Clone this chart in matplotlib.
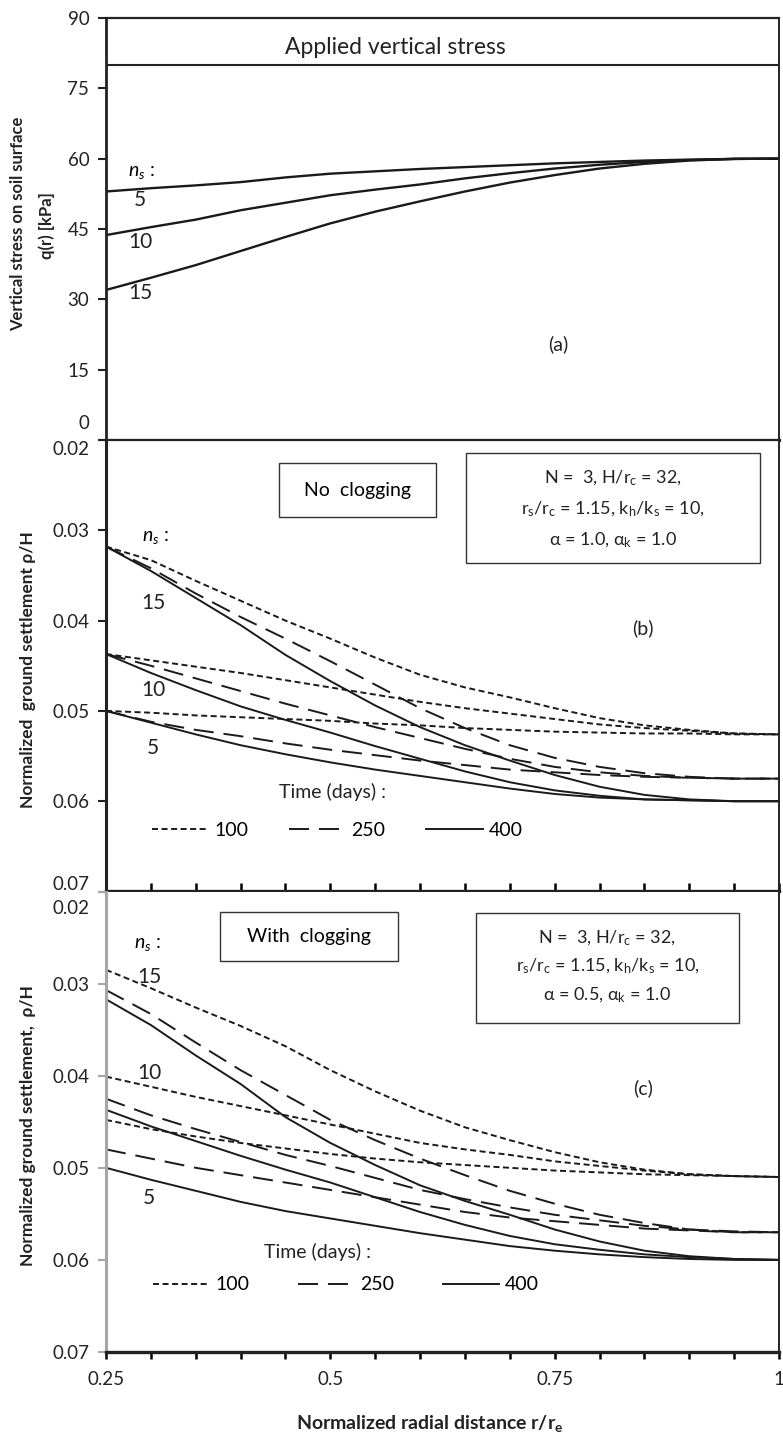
import numpy as np
import matplotlib
matplotlib.use('Agg')
import matplotlib.pyplot as plt
import matplotlib.transforms as mtransforms
from matplotlib.patches import Rectangle
from matplotlib.lines import Line2D

plt.rcParams['font.family'] = ['Lato', 'DejaVu Sans']
plt.rcParams['mathtext.fontset'] = 'custom'
plt.rcParams['mathtext.rm'] = 'Lato'
plt.rcParams['mathtext.it'] = 'Lato:italic'
plt.rcParams['mathtext.bf'] = 'Lato:bold'

# normalized radial distance r/re
r = [0.25, 0.30, 0.35, 0.40, 0.45, 0.50, 0.55, 0.60, 0.65, 0.70, 0.75, 0.80, 0.85, 0.90, 0.95, 1.00]
days = [100, 250, 400]

# (a) vertical stress on soil surface q(r) [kPa]
q_applied = 80
q_ns5 = [53.0, 53.7, 54.3, 55.0, 56.0, 56.8, 57.3, 57.8, 58.2, 58.6, 59.0, 59.3, 59.6, 59.8, 59.95, 60.0]
q_ns10 = [43.7, 45.4, 47.0, 49.0, 50.6, 52.2, 53.4, 54.5, 55.8, 56.9, 57.9, 58.7, 59.3, 59.7, 59.95, 60.0]
q_ns15 = [32.0, 34.6, 37.3, 40.3, 43.3, 46.2, 48.7, 50.9, 53.0, 54.9, 56.5, 57.9, 58.9, 59.6, 59.95, 60.0]

# (b) no clogging, rho/H
b_ns5_t100 = [0.0500, 0.0502, 0.0505, 0.0507, 0.0509, 0.0511, 0.0514, 0.0516, 0.0519, 0.0521, 0.0523, 0.0524, 0.0525, 0.0525, 0.0526, 0.0526]
b_ns5_t250 = [0.0500, 0.0512, 0.0521, 0.0528, 0.0536, 0.0543, 0.0549, 0.0555, 0.0560, 0.0565, 0.0568, 0.0571, 0.0573, 0.0574, 0.0575, 0.0575]
b_ns5_t400 = [0.0500, 0.0513, 0.0526, 0.0538, 0.0548, 0.0557, 0.0565, 0.0572, 0.0579, 0.0586, 0.0592, 0.0596, 0.0598, 0.0599, 0.0600, 0.0600]
b_ns10_t100 = [0.0437, 0.0444, 0.0451, 0.0458, 0.0466, 0.0474, 0.0482, 0.0490, 0.0497, 0.0503, 0.0509, 0.0515, 0.0519, 0.0522, 0.0525, 0.0526]
b_ns10_t250 = [0.0437, 0.0450, 0.0464, 0.0478, 0.0492, 0.0505, 0.0518, 0.0530, 0.0542, 0.0553, 0.0562, 0.0568, 0.0572, 0.0574, 0.0575, 0.0575]
b_ns10_t400 = [0.0437, 0.0458, 0.0477, 0.0495, 0.0510, 0.0524, 0.0539, 0.0553, 0.0567, 0.0579, 0.0588, 0.0594, 0.0598, 0.0599, 0.0600, 0.0600]
b_ns15_t100 = [0.0318, 0.0333, 0.0356, 0.0378, 0.0400, 0.0420, 0.0441, 0.0460, 0.0474, 0.0485, 0.0497, 0.0508, 0.0516, 0.0521, 0.0525, 0.0526]
b_ns15_t250 = [0.0318, 0.0342, 0.0370, 0.0396, 0.0420, 0.0445, 0.0471, 0.0497, 0.0519, 0.0538, 0.0552, 0.0562, 0.0569, 0.0573, 0.0575, 0.0575]
b_ns15_t400 = [0.0318, 0.0345, 0.0375, 0.0405, 0.0438, 0.0467, 0.0494, 0.0518, 0.0538, 0.0555, 0.0571, 0.0584, 0.0593, 0.0598, 0.0600, 0.0600]

# (c) with clogging, rho/H
c_ns5_t100 = [0.0448, 0.0458, 0.0466, 0.0473, 0.0479, 0.0485, 0.0490, 0.0494, 0.0497, 0.0500, 0.0503, 0.0505, 0.0507, 0.0508, 0.0509, 0.0510]
c_ns5_t250 = [0.0480, 0.0490, 0.0500, 0.0508, 0.0516, 0.0524, 0.0532, 0.0540, 0.0548, 0.0554, 0.0558, 0.0562, 0.0566, 0.0568, 0.0570, 0.0570]
c_ns5_t400 = [0.0500, 0.0513, 0.0525, 0.0537, 0.0547, 0.0555, 0.0563, 0.0571, 0.0578, 0.0585, 0.0590, 0.0594, 0.0597, 0.0599, 0.0600, 0.0600]
c_ns10_t100 = [0.0401, 0.0412, 0.0423, 0.0433, 0.0443, 0.0453, 0.0463, 0.0473, 0.0480, 0.0486, 0.0493, 0.0498, 0.0503, 0.0507, 0.0509, 0.0510]
c_ns10_t250 = [0.0425, 0.0443, 0.0458, 0.0472, 0.0486, 0.0498, 0.0511, 0.0524, 0.0534, 0.0543, 0.0551, 0.0557, 0.0563, 0.0567, 0.0569, 0.0570]
c_ns10_t400 = [0.0437, 0.0455, 0.0471, 0.0487, 0.0502, 0.0516, 0.0532, 0.0548, 0.0562, 0.0574, 0.0583, 0.0589, 0.0594, 0.0597, 0.0599, 0.0600]
c_ns15_t100 = [0.0285, 0.0305, 0.0326, 0.0346, 0.0368, 0.0394, 0.0417, 0.0438, 0.0456, 0.0470, 0.0483, 0.0494, 0.0502, 0.0507, 0.0509, 0.0510]
c_ns15_t250 = [0.0307, 0.0333, 0.0364, 0.0394, 0.0421, 0.0448, 0.0470, 0.0490, 0.0508, 0.0525, 0.0539, 0.0551, 0.0560, 0.0567, 0.0570, 0.0570]
c_ns15_t400 = [0.0317, 0.0345, 0.0378, 0.0409, 0.0445, 0.0473, 0.0497, 0.0519, 0.0536, 0.0551, 0.0567, 0.0580, 0.0590, 0.0596, 0.0599, 0.0600]

b_series = {100: [b_ns5_t100, b_ns10_t100, b_ns15_t100],
            250: [b_ns5_t250, b_ns10_t250, b_ns15_t250],
            400: [b_ns5_t400, b_ns10_t400, b_ns15_t400]}
c_series = {100: [c_ns5_t100, c_ns10_t100, c_ns15_t100],
            250: [c_ns5_t250, c_ns10_t250, c_ns15_t250],
            400: [c_ns5_t400, c_ns10_t400, c_ns15_t400]}

LW = 1.4
styles = {100: (0, (3.1, 1.8)), 250: (0, (10.3, 5.1)), 400: '-'}
FS = 14
TFS = 13.5
INK = '#222222'
GRAY = '#a6a6a6'

fig = plt.figure(figsize=(7.83, 14.38), dpi=100)
L, W = 106 / 783, 673 / 783
def pos(top, bot):
    return [L, 1 - bot / 1438, W, (bot - top) / 1438]

ax_a = fig.add_axes(pos(18, 440))
ax_b = fig.add_axes(pos(440, 891.5))
ax_c = fig.add_axes(pos(891.5, 1352))

def nudge(ax, idx, dy):
    lab = ax.get_yticklabels()[idx]
    lab.set_transform(lab.get_transform() + mtransforms.ScaledTranslation(0, dy / 100, fig.dpi_scale_trans))

# ---------------- (a)
ax_a.axhline(q_applied, color=INK, lw=1.5)
for q in [q_ns5, q_ns10, q_ns15]:
    ax_a.plot(r, q, color='#1a1a1a', lw=1.7)
ax_a.set_xlim(0.25, 1)
ax_a.set_ylim(0, 90)
ax_a.set_yticks(np.arange(0, 91, 15))
ax_a.set_xticks([])
ax_a.tick_params(axis='y', direction='out', length=6, width=1.5, pad=6, labelsize=TFS, colors=INK)
ax_a.text(0.573, 83.7, 'Applied vertical stress', fontsize=16.5, ha='center', va='center', color=INK)
ax_a.text(0.289, 57.1, r'$n_s$ :', fontsize=FS, ha='center', va='center')
for lab, yy in zip(['5', '10', '15'], [51.1, 42.2, 31.3]):
    ax_a.text(0.288, yy, lab, fontsize=15, ha='center', va='center', color=INK)
ax_a.text(0.7537, 20.45, '(a)', fontsize=FS, ha='center', va='center', color=INK)
for s, w in zip(['left', 'top', 'right', 'bottom'], [2.0, 1.6, 1.4, 2.2]):
    ax_a.spines[s].set_linewidth(w)
    ax_a.spines[s].set_color(INK)
nudge(ax_a, 0, 18)

# ---------------- (b) and (c)
def settle_panel(ax, series, left_col):
    for t in days:
        for y in series[t]:
            ax.plot(r, y, color='#1a1a1a', lw=LW, linestyle=styles[t])
    ax.set_xlim(0.25, 1)
    ax.set_ylim(0.07, 0.02)
    ax.set_yticks([0.02, 0.03, 0.04, 0.05, 0.06, 0.07])
    ax.set_yticklabels(['0.02', '0.03', '0.04', '0.05', '0.06', '0.07'])
    ax.set_xticks([0.25, 0.5, 0.75, 1.0])
    ax.set_xticks(np.arange(0.30, 0.99, 0.05), minor=True)
    ax.tick_params(axis='y', direction='out', length=6, width=1.5, pad=6, labelsize=TFS,
                   color=left_col, labelcolor=INK)
    for s, w in zip(['left', 'top', 'right', 'bottom'], [2.2, 1.6, 1.4, 2.4]):
        ax.spines[s].set_linewidth(w)
        ax.spines[s].set_color(INK)
    ax.spines['left'].set_color(left_col)
    return [Line2D([], [], color='#1a1a1a', lw=LW, linestyle=styles[t]) for t in days]

def param_box(ax, x0, y0, w, h, lines, xc, ys, top, height):
    ax.add_patch(Rectangle((x0, y0), w, h, transform=ax.transAxes, fill=False, lw=1.0, ec='#333333'))
    for txt, yy in zip(lines, ys):
        ax.text(xc, 1 - (yy - top) / height, txt, transform=ax.transAxes, fontsize=13,
                ha='center', va='center', color=INK)

h = settle_panel(ax_b, b_series, INK)
ax_b.tick_params(axis='x', which='both', direction='in', length=6, width=1.8, labelbottom=False)
ax_b.text(0.3046, 0.03075, r'$n_s$ :', fontsize=FS, ha='center', va='center')
for lab, yy in zip(['15', '10', '5'], [0.0380, 0.04772, 0.05415]):
    ax_b.text(0.3024, yy, lab, fontsize=15, ha='center', va='center', color=INK)
ax_b.text(0.8485, 0.04084, '(b)', fontsize=FS, ha='center', va='center', color=INK)
ax_b.add_patch(Rectangle((0.257, 0.829), 0.233, 0.12, transform=ax_b.transAxes,
                         fill=False, lw=1.0, ec='#333333'))
ax_b.text(0.3735, 0.889, 'No  clogging', transform=ax_b.transAxes, fontsize=FS, ha='center', va='center')
param_box(ax_b, 0.535, 0.727, 0.437, 0.244,
          [r'N =  3, H/r$\mathregular{_c}$ = 32,',
           r'r$\mathregular{_s}$/r$\mathregular{_c}$ = 1.15, k$\mathregular{_h}$/k$\mathregular{_s}$ = 10,',
           r'α = 1.0, α$\mathregular{_k}$ = 1.0'],
          0.753, [478, 509, 540], 440, 451)
ax_b.text(0.337, 1 - (792 - 440) / 451, 'Time (days) :', transform=ax_b.transAxes,
          fontsize=FS, ha='center', va='center', color=INK)
ax_b.legend(h, [str(t) for t in days], ncol=3, loc='center left',
            bbox_to_anchor=(0.0684, 1 - (830 - 440) / 451), frameon=False, fontsize=FS,
            borderpad=0, borderaxespad=0, handlelength=2.9, handletextpad=0.3, columnspacing=2.1)
nudge(ax_b, 0, -8)
nudge(ax_b, 5, 9)

h = settle_panel(ax_c, c_series, GRAY)
ax_c.set_xticklabels(['0.25', '0.5', '0.75', '1'])
ax_c.tick_params(axis='x', which='both', direction='out', length=5, width=1.8, pad=9,
                 labelsize=TFS, labelcolor=INK)
ax_c.spines['top'].set_visible(False)
ax_c.text(0.2957, 0.02577, r'$n_s$ :', fontsize=FS, ha='center', va='center')
for lab, yy in zip(['15', '10', '5'], [0.02925, 0.0397, 0.0533]):
    ax_c.text(0.2979, yy, lab, fontsize=15, ha='center', va='center', color=INK)
ax_c.text(0.8485, 0.04133, '(c)', fontsize=FS, ha='center', va='center', color=INK)
ax_c.add_patch(Rectangle((0.1694, 0.848), 0.2645, 0.1085, transform=ax_c.transAxes,
                         fill=False, lw=1.0, ec='#333333'))
ax_c.text(0.3016, 0.902, 'With  clogging', transform=ax_c.transAxes, fontsize=FS, ha='center', va='center')
param_box(ax_c, 0.5498, 0.715, 0.3908, 0.239,
          [r'N =  3, H/r$\mathregular{_c}$ = 32,',
           r'r$\mathregular{_s}$/r$\mathregular{_c}$ = 1.15, k$\mathregular{_h}$/k$\mathregular{_s}$ = 10,',
           r'α = 0.5, α$\mathregular{_k}$ = 1.0'],
          0.745, [939, 967, 996], 892, 460)
ax_c.text(0.315, 1 - (1252 - 892) / 460, 'Time (days) :', transform=ax_c.transAxes,
          fontsize=FS, ha='center', va='center', color=INK)
ax_c.legend(h, [str(t) for t in days], ncol=3, loc='center left',
            bbox_to_anchor=(0.0698, 1 - (1285 - 892) / 460), frameon=False, fontsize=FS,
            borderpad=0, borderaxespad=0, handlelength=2.9, handletextpad=0.3, columnspacing=2.5)
nudge(ax_c, 0, -15)

# axis titles
def ftext(px, py, s, size=12.5, **kw):
    fig.text(px / 783, 1 - py / 1438, s, ha='center', va='center', fontweight='bold',
             fontsize=size, color=INK, **kw)

ftext(18, 224, 'Vertical stress on soil surface', size=12, rotation=90)
ftext(47, 226, 'q(r) [kPa]', size=12, rotation=90)
ftext(28, 670, 'Normalized  ground settlement ρ/H', rotation=90)
ftext(28, 1126, 'Normalized ground settlement,  ρ/H', rotation=90)
ftext(430, 1423, r'Normalized radial distance r/r$_\mathbf{e}$', size=14)

fig.savefig('out.png', dpi=100)
